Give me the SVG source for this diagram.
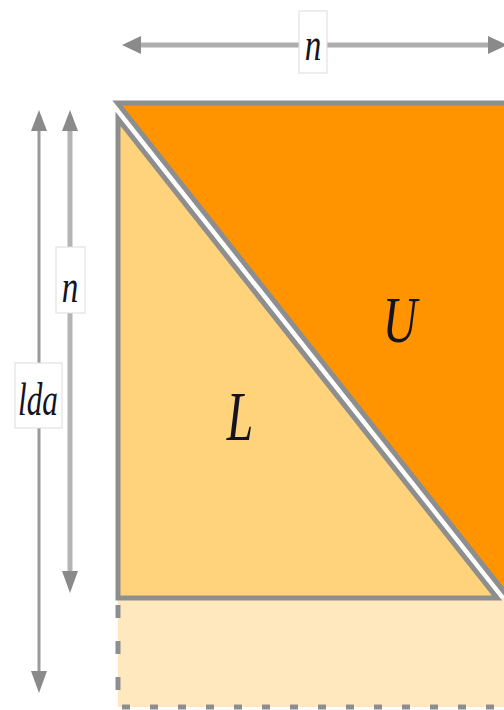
<svg xmlns="http://www.w3.org/2000/svg" width="504" height="710" viewBox="0 0 504 710">
<style>
.edge{stroke:#8e8e8e;stroke-width:5;stroke-linejoin:miter;stroke-miterlimit:6}
.dash{stroke:#8e8e8e;stroke-width:5;fill:none}
.shaft{stroke:#aeaeae;fill:none}
.head{fill:#8a8a8a}
.lbox{fill:#fff;stroke:#dcdcdc;stroke-width:1}
.lbl{font-family:"Liberation Serif","Times New Roman",serif;font-style:italic;fill:#141420;text-anchor:middle}
</style>
<rect width="504" height="710" fill="#fff"/>
<g id="padding">
<rect x="118" y="598" width="400" height="109" fill="#FFE8BE"/>
<line class="dash" x1="118" y1="605" x2="118" y2="707" stroke-dasharray="13,23"/>
<line class="dash" x1="122" y1="707" x2="510" y2="707" stroke-dasharray="8,20"/>
</g>
<g id="upper-U">
<polygon class="edge" points="117.5,103 530,103 530,624.5" fill="#FF9400"/>
<text class="lbl" font-size="66" transform="translate(400,342) scale(0.72,1)">U</text>
</g>
<g id="lower-L">
<polygon class="edge" points="118,119 118,598 497,598" fill="#FFD37B"/>
<text class="lbl" font-size="70" transform="translate(240,440) scale(0.68,1)">L</text>
</g>
<g id="connectors">
<line class="shaft" x1="138" y1="45" x2="492" y2="45" stroke-width="5"/>
<polygon class="head" points="122,45 141,36 141,54"/>
<polygon class="head" points="507,45 488,36 488,54"/>
<line class="shaft" x1="39" y1="128" x2="39" y2="676" stroke-width="3" style="stroke:#9a9a9a"/>
<polygon class="head" points="39,110 31,131 47,131"/>
<polygon class="head" points="39,693 31,671 47,671"/>
<line class="shaft" x1="70" y1="128" x2="70" y2="576" stroke-width="5" style="stroke:#b4b4b4"/>
<polygon class="head" points="70,110 62,131 78,131"/>
<polygon class="head" points="70,593 62,571 78,571"/>
</g>
<g id="label-n-top">
<rect class="lbox" x="299" y="11" width="28" height="62"/>
<text class="lbl" font-size="46" transform="translate(313,60) scale(0.72,1)">n</text>
</g>
<g id="label-n-left">
<rect class="lbox" x="56" y="247" width="29" height="66"/>
<text class="lbl" font-size="46" transform="translate(70,302) scale(0.72,1)">n</text>
</g>
<g id="label-lda">
<rect class="lbox" x="15" y="363" width="47" height="65"/>
<text class="lbl" font-size="46" transform="translate(38,415) scale(0.68,1)">lda</text>
</g>
</svg>
